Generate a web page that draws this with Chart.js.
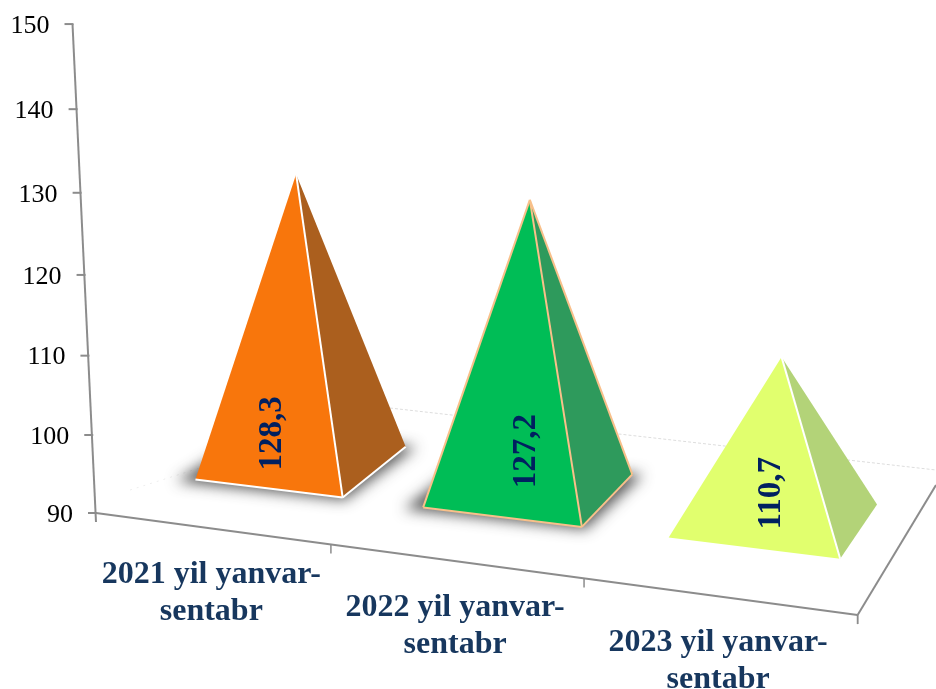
<!DOCTYPE html>
<html>
<head>
<meta charset="utf-8">
<style>html,body{margin:0;padding:0;background:#fff}canvas{display:block}</style>
<script src="https://cdn.jsdelivr.net/npm/chart.js@4"></script>
</head>
<body>
<canvas id="c" width="936" height="689"></canvas>
<script>
// ---- data ----
const categories = [['2021 yil yanvar-','sentabr'],['2022 yil yanvar-','sentabr'],['2023 yil yanvar-','sentabr']];
const values = [128.3, 127.2, 110.7];
const valueLabels = ['128,3','127,2','110,7'];
const axisMin = 90, axisMax = 150, axisStep = 10;

// ---- styles ----
const frontColors = ['#F8760C','#00BD56','#E1FF6E'];
const sideColors  = ['#AB5F1E','#2E9A5C','#B3D378'];
const edgeColors  = ['#FFFFFF','#F8C08A',null];
const innerEdge   = ['#FFFFFF','#F8C08A','#FFFFFF'];
const hasShadow   = [true,true,false];
const labelShift  = [[-29,-30],[-2,-40],[-3,-28]];
const AXIS='#8C8C8C', SERIF='"Liberation Serif","Times New Roman",serif';

// ---- perspective used by the pseudo-3D rendering ----
const xAt = u => (669*u+96)/(1-0.108*u);
const yAt = x => 513+0.134*(x-96);
function floorPt(u,d){
  const fx=xAt(u), fy=yAt(fx);
  const dx=63-0.0503*(fx-289), dy=-(48.8+0.0068*fx);
  return [fx+d*dx, fy+d*dy];
}
function basePt(u,d){const p=floorPt(u,d);return [p[0],p[1]+8*(0.5-u)];}
const wallY = t => 513-(464*t)/(1-0.051*t);
const wallX = y => 96-(513-y)*(23.5/489);
const heightGain = u => 0.9626+0.072*(u-0.5)-0.095*(u-0.5)*(u-0.5);

function poly(ctx,pts,ox){ox=ox||0;ctx.beginPath();pts.forEach((p,i)=>i?ctx.lineTo(p[0]+ox,p[1]):ctx.moveTo(p[0]+ox,p[1]));ctx.closePath();}
function line(ctx,a,b,col,w,dash){ctx.save();ctx.strokeStyle=col;ctx.lineWidth=w;ctx.setLineDash(dash||[]);ctx.beginPath();ctx.moveTo(a[0],a[1]);ctx.lineTo(b[0],b[1]);ctx.stroke();ctx.restore();}

const pyramidPlugin = {
  id:'pyramids',
  afterDatasetsDraw(chart){
    const ctx=chart.ctx, area=chart.chartArea, ys=chart.scales.y, xs=chart.scales.x;
    const W=area.right-area.left, H=area.bottom-area.top;
    ctx.save();
    // faint floor back lines
    line(ctx,[130,490],[390,408],'#EEEEEE',1,[2,5]);
    line(ctx,[390,408],[936,470],'#DDDDDD',1,[3,2]);
    // value axis
    const yPt=v=>{const t=(area.bottom-ys.getPixelForValue(v))/H;const y=wallY(t);return [wallX(y),y];};
    line(ctx,yPt(axisMax),[96,522],AXIS,2);
    ctx.font='26px '+SERIF;ctx.fillStyle='#000';ctx.textAlign='right';ctx.textBaseline='middle';
    ys.ticks.forEach(tk=>{
      const p=yPt(tk.value);
      line(ctx,[p[0]-8,p[1]],[p[0]+1,p[1]],AXIS,2);
      ctx.fillText(String(tk.value),p[0]-23,p[1]+2);
    });
    // floor edges
    line(ctx,floorPt(0,0),floorPt(1,0),AXIS,2);
    const fr=floorPt(1,0);
    line(ctx,fr,[936,485],AXIS,2);
    line(ctx,fr,[fr[0],fr[1]+9],AXIS,1.5);
    xs.ticks.forEach((tk,i)=>{
      const p=floorPt((i+1)/xs.ticks.length,0);
      line(ctx,p,[p[0],p[1]+9],AXIS,1.5);
    });
    // category labels
    ctx.font='bold 32px '+SERIF;ctx.fillStyle='#17375E';ctx.textAlign='center';ctx.textBaseline='middle';
    categories.forEach((c,i)=>{
      const p=floorPt((xs.getPixelForValue(i)-area.left)/W,0);
      c.forEach((s,j)=>ctx.fillText(s,p[0],p[1]+46.5+j*37));
    });
    // pyramids
    const meta=chart.getDatasetMeta(0);
    const baseY=ys.getPixelForValue(axisMin);
    meta.data.forEach((bar,i)=>{
      const u=(bar.x-area.left)/W, hw=bar.width/2/W;
      const FL=basePt(u-hw,0.85),FR=basePt(u+hw,0.85),BR=basePt(u+hw,1.85),BL=basePt(u-hw,1.85);
      const C=basePt(u,1.35);
      const apex=[C[0]+19.5*(u-0.5)+1,C[1]-heightGain(u)*(baseY-bar.y)];
      if(hasShadow[i]){
        ctx.save();
        const sc=p=>[C[0]-4+(p[0]-C[0])*1.14,C[1]+1+(p[1]-C[1])*1.04];
        ctx.shadowColor='rgba(60,60,60,0.85)';ctx.shadowBlur=14;ctx.shadowOffsetX=3000;
        ctx.fillStyle='#000';
        poly(ctx,[sc(FL),sc(FR),sc(BR),sc(BL)],-3000);ctx.fill();
        ctx.restore();
      }
      ctx.lineJoin='round';
      ctx.fillStyle=sideColors[i];poly(ctx,[FR,BR,apex]);ctx.fill();
      ctx.fillStyle=frontColors[i];poly(ctx,[FL,FR,apex]);ctx.fill();
      if(edgeColors[i]){
        const w=2;
        line(ctx,FL,FR,edgeColors[i],w);
        line(ctx,FR,BR,edgeColors[i],w);
        if(i===1){line(ctx,FL,apex,edgeColors[i],w);line(ctx,BR,apex,edgeColors[i],w);}
      }
      line(ctx,FR,apex,innerEdge[i],2);
      // rotated value
      ctx.save();
      ctx.translate(C[0]+labelShift[i][0],C[1]+labelShift[i][1]);
      ctx.rotate(-Math.PI/2);
      ctx.font='bold 33px '+SERIF;ctx.fillStyle='#002060';ctx.textAlign='center';ctx.textBaseline='middle';
      ctx.fillText(valueLabels[i],0,0);
      ctx.restore();
    });
    ctx.restore();
  }
};

new Chart(document.getElementById('c'),{
  type:'bar',
  data:{labels:categories,datasets:[{data:values,backgroundColor:'rgba(0,0,0,0)',borderWidth:0,barPercentage:0.655,categoryPercentage:1,base:axisMin}]},
  options:{
    responsive:false,animation:false,
    layout:{padding:{left:96,right:78,top:25,bottom:176}},
    plugins:{legend:{display:false},tooltip:{enabled:false}},
    scales:{
      x:{display:false,offset:true},
      y:{display:false,min:axisMin,max:axisMax,ticks:{stepSize:axisStep}}
    }
  },
  plugins:[pyramidPlugin]
});
</script>
</body>
</html>
